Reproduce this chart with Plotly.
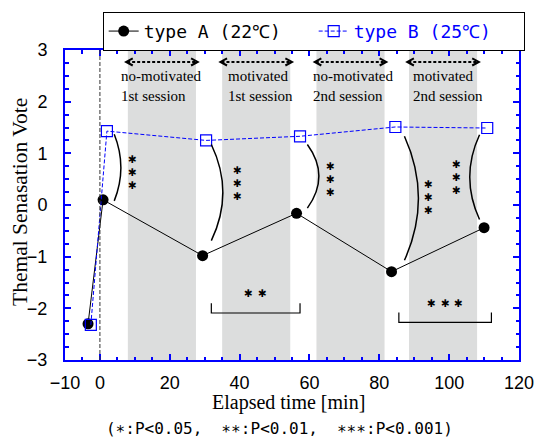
import plotly.graph_objects as go

# Thermal sensation vote of the two groups over the experiment
time_a = [-3.4, 0.9, 29.4, 56.3, 83.5, 110.0]
vote_a = [-2.30, 0.10, -0.98, -0.16, -1.29, -0.44]
time_b = [-2.6, 2.0, 30.4, 57.3, 84.6, 110.9]
vote_b = [-2.32, 1.43, 1.25, 1.33, 1.51, 1.49]

# Session windows [min]
session_start = [8.0, 35.0, 62.0, 88.5]
session_end = [27.5, 54.5, 81.5, 108.0]
session_names = [
    "no-motivated<br>1st session",
    "motivated<br>1st session",
    "no-motivated<br>2nd session",
    "motivated<br>2nd session",
]

# Between-group significance at measurement points 2..6
group_sig_index = [1, 2, 3, 4, 5]
group_sig_level = [3, 3, 3, 3, 3]

# Within-group (type A) change significance: (from point, to point, level)
change_from = [2, 4]
change_to = [3, 5]
change_level = [2, 3]

x_ticks = [-10, 0, 20, 40, 60, 80, 100, 120]
y_ticks = [-3, -2, -1, 0, 1, 2, 3]

BLUE = "#0000ff"
GREY_BAND = "#dcdddd"
SERIF = "Liberation Serif"
SANS = "Liberation Sans"
MONO = "DejaVu Sans Mono"
STAR = "✱"

fig = go.Figure()

fig.add_trace(go.Scatter(
    x=time_a, y=vote_a, mode="lines+markers",
    name="type A (22℃)",
    line=dict(color="black", width=1),
    marker=dict(symbol="circle", size=11, color="black"),
))
fig.add_trace(go.Scatter(
    x=time_b, y=vote_b, mode="lines+markers",
    name="<span style='color:#0000ff'>type B (25℃)</span>",
    line=dict(color=BLUE, width=1, dash="4px,2px"),
    marker=dict(symbol="square-open", size=11, color=BLUE, line=dict(width=1.2, color=BLUE)),
))

shapes = []
annotations = []

# grey session bands
for s, e in zip(session_start, session_end):
    shapes.append(dict(type="rect", xref="x", yref="paper", x0=s, x1=e, y0=0, y1=1,
                       fillcolor=GREY_BAND, line=dict(width=0), layer="below"))

# start of the exposure
shapes.append(dict(type="line", xref="x", yref="paper", x0=0, x1=0, y0=0, y1=1,
                   line=dict(color="#333333", width=1, dash="4px,2px")))

# drop shadow behind the legend box
shapes.append(dict(type="rect", xref="paper", yref="paper",
                   x0=0.0904, x1=0.9386, y0=1.0110, y1=1.1170,
                   fillcolor="#9a9a9a", line=dict(width=0), layer="above"))

# double-headed dashed arrows over each session
arrow_y = 2.77
head_dx, head_dy = 1.9, 0.07
for s, e in zip(session_start, session_end):
    x0, x1 = s - 0.5, e + 0.5
    shapes.append(dict(type="line", xref="x", yref="y", x0=x0 + 0.3, x1=x1 - 0.3,
                       y0=arrow_y, y1=arrow_y,
                       line=dict(color="black", width=2, dash="3px,2px")))
    shapes.append(dict(type="path", xref="x", yref="y",
                       path=f"M {x0 + head_dx},{arrow_y + head_dy} L {x0},{arrow_y} L {x0 + head_dx},{arrow_y - head_dy}",
                       line=dict(color="black", width=2)))
    shapes.append(dict(type="path", xref="x", yref="y",
                       path=f"M {x1 - head_dx},{arrow_y + head_dy} L {x1},{arrow_y} L {x1 - head_dx},{arrow_y - head_dy}",
                       line=dict(color="black", width=2)))

# session captions
caption_dx = [-2.4, 1.0, -1.6, 0.65]
for s, name, dx in zip(session_start, session_names, caption_dx):
    annotations.append(dict(x=s + dx, y=2.30, xref="x", yref="y", text=name,
                            showarrow=False, xanchor="left", yanchor="middle", align="left",
                            font=dict(family=SERIF, size=15, color="black")))

# curved brackets between the groups at each point
bracket_dx = [3.2, 2.5, 3.1, 3.7, -1.3]
bracket_bulge = [1.9, 3.3, 3.3, 4.0, -2.8]
gap_top = [0.06, 0.08, 0.16, 0.18, 0.13]
gap_bottom = [-0.02, 0.29, 0.10, 0.22, 0.16]
star_x = [9.2, 39.4, 66.0, 94.1, 102.2]
star_y = [0.64, 0.42, 0.51, 0.16, 0.55]
for k, idx in enumerate(group_sig_index):
    bx = time_a[idx] + bracket_dx[k]
    y_top = vote_b[idx] - gap_top[k]
    y_bot = vote_a[idx] + gap_bottom[k]
    cx = bx + 2 * bracket_bulge[k]
    cy = (y_top + y_bot) / 2
    shapes.append(dict(type="path", xref="x", yref="y",
                       path=f"M {bx},{y_top} Q {cx},{cy} {bx},{y_bot}",
                       line=dict(color="black", width=1.5)))
    n = group_sig_level[k]
    for j in range(n):
        annotations.append(dict(x=star_x[k], y=star_y[k], xref="x", yref="y", text=STAR,
                                showarrow=False, yshift=(j - (n - 1) / 2) * 13,
                                borderpad=0,
                                font=dict(family="DejaVu Sans", size=10.5, color="black")))

# horizontal brackets for the change within type A
span_dx0 = [2.5, 2.1]
span_dx1 = [1.0, 2.1]
span_y = [-2.09, -2.27]
span_tick = 0.19
for k in range(len(change_from)):
    xa = time_a[change_from[k]] + span_dx0[k]
    xb = time_a[change_to[k]] + span_dx1[k]
    yl = span_y[k]
    shapes.append(dict(type="path", xref="x", yref="y",
                       path=f"M {xa},{yl + span_tick} L {xa},{yl} L {xb},{yl} L {xb},{yl + span_tick}",
                       line=dict(color="black", width=1.2)))
    n = change_level[k]
    xm = (xa + xb) / 2
    for j in range(n):
        annotations.append(dict(x=xm, y=yl + 0.38, xref="x", yref="y", text=STAR,
                                showarrow=False, xshift=(j - (n - 1) / 2) * 13.4,
                                borderpad=0,
                                font=dict(family="DejaVu Sans", size=10.5, color="black")))

# axis titles
annotations.append(dict(x=-0.099, y=0.510, xref="paper", yref="paper",
                        text="Themal Senasation Vote", textangle=-90,
                        showarrow=False, xanchor="center", yanchor="middle",
                        font=dict(family=SERIF, size=21.5, color="black")))
annotations.append(dict(x=0.4915, y=-0.138, xref="paper", yref="paper",
                        text="Elapsed time [min]",
                        showarrow=False, xanchor="center", yanchor="middle",
                        font=dict(family=SERIF, size=20, color="black")))

# significance key below the axis title
annotations.append(dict(x=0.4715, y=-0.222, xref="paper", yref="paper",
                        text="(∗:P<0.05,  ∗∗:P<0.01,  ∗∗∗:P<0.001)",
                        showarrow=False, xanchor="center", yanchor="middle",
                        font=dict(family=MONO, size=16, color="black")))

axis_common = dict(
    ticks="inside", ticklen=6, tickwidth=1.5, tickcolor=BLUE,
    showline=True, linecolor=BLUE, linewidth=2, mirror="allticks",
    showgrid=False, zeroline=False,
    tickfont=dict(family=SANS, size=18, color="black"),
)

fig.update_layout(
    width=546, height=443,
    margin=dict(l=65, r=16.5, t=48.5, b=83),
    paper_bgcolor="white", plot_bgcolor="white",
    shapes=shapes, annotations=annotations,
    showlegend=True,
    legend=dict(orientation="h", x=0.083, y=1.123, xanchor="left", yanchor="top",
                bordercolor="black", borderwidth=1, bgcolor="white",
                font=dict(family=MONO, size=18, color="black"),
                itemwidth=30, entrywidth=165, tracegroupgap=0),
    xaxis=dict(
        range=[-10, 120], tickmode="array", tickvals=x_ticks,
        ticktext=[f"{v}".replace("-", "−") for v in x_ticks],
        minor=dict(tickvals=list(range(-10, 121, 5)), ticks="inside", ticklen=3.5,
                   tickwidth=1.5, tickcolor=BLUE, showgrid=False),
        ticklabelstandoff=5,
        **axis_common,
    ),
    yaxis=dict(
        range=[-3, 3], tickmode="array", tickvals=y_ticks,
        ticktext=[f"{v}".replace("-", "−") for v in y_ticks],
        minor=dict(dtick=0.25, tick0=0, ticks="inside", ticklen=3.5,
                   tickwidth=1.5, tickcolor=BLUE, showgrid=False),
        ticklabelstandoff=12,
        **axis_common,
    ),
)

fig.write_html("out.html")
